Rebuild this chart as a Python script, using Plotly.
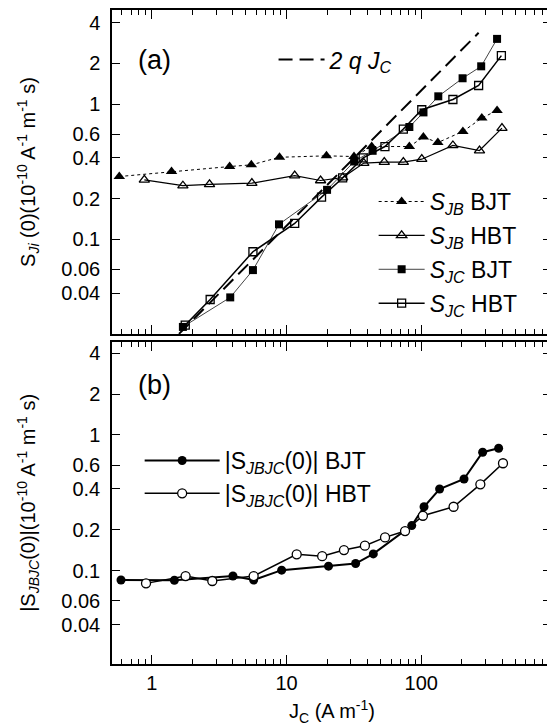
import plotly.graph_objects as go

# ---------------- data (panel a) ----------------
jb_bjt_x = [0.573, 1.40, 3.78, 5.48, 8.87, 19.8, 31.7, 42.9, 81.7, 103.8, 133, 204, 282, 366]
jb_bjt_y = [0.291, 0.317, 0.345, 0.355, 0.404, 0.414, 0.409, 0.485, 0.485, 0.570, 0.519, 0.627, 0.787, 0.897]

jb_hbt_x = [0.879, 1.70, 2.68, 5.53, 11.5, 17.9, 26.1, 37.5, 53.2, 73.7, 101, 172, 271, 398]
jb_hbt_y = [0.275, 0.249, 0.255, 0.260, 0.296, 0.272, 0.286, 0.366, 0.372, 0.372, 0.391, 0.494, 0.453, 0.664]

jc_bjt_x = [1.70, 3.82, 5.63, 8.79, 20.0, 31.8, 43.6, 81.7, 104, 134, 203, 279, 366]
jc_bjt_y = [0.0225, 0.0372, 0.0592, 0.129, 0.232, 0.376, 0.451, 0.676, 0.867, 1.14, 1.55, 1.90, 3.03]

jc_hbt_x = [1.77, 2.71, 5.63, 11.5, 18.2, 26.1, 37.1, 53.8, 73.7, 101, 172, 267, 394]
jc_hbt_y = [0.0232, 0.0359, 0.0809, 0.131, 0.205, 0.284, 0.40, 0.485, 0.653, 0.907, 1.08, 1.37, 2.28]

qjc_x = [1.59, 267]
qjc_y = [0.020, 3.36]

# ---------------- data (panel b) ----------------
jbjc_bjt_x = [0.590, 1.47, 4.0, 5.70, 9.2, 20.5, 32.6, 44.1, 85.1, 105, 137, 208, 286, 376]
jbjc_bjt_y = [0.0854, 0.0851, 0.0914, 0.0854, 0.101, 0.108, 0.113, 0.133, 0.215, 0.296, 0.400, 0.474, 0.746, 0.798]

jbjc_hbt_x = [0.905, 1.78, 2.81, 5.70, 11.9, 18.4, 26.7, 38.2, 53.9, 75.9, 103, 174, 275, 405]
jbjc_hbt_y = [0.0807, 0.0914, 0.0840, 0.0914, 0.132, 0.128, 0.142, 0.153, 0.176, 0.196, 0.254, 0.296, 0.433, 0.619]

y_tickvals = [0.04, 0.06, 0.1, 0.2, 0.4, 0.6, 1, 2, 4]
y_ticktext = ["0.04", "0.06", "0.1", "0.2", "0.4", "0.6", "1", "2", "4"]
x_tickvals = [1, 10, 100]
x_ticktext = ["1", "10", "100"]
x_minor = [0.6, 0.7, 0.8, 0.9, 2, 3, 4, 5, 6, 7, 8, 9, 20, 30, 40, 50, 60, 70, 80, 90,
           200, 300, 400, 500, 600, 700, 800, 900]

FONT = "Liberation Sans, Arial, sans-serif"
BLACK = "black"

fig = go.Figure()

fig.add_trace(go.Scatter(x=qjc_x, y=qjc_y, mode="lines", xaxis="x", yaxis="y",
                         line=dict(color=BLACK, width=2, dash="14px,7px"),
                         name="<i>2 q J<sub>C</sub></i>", legend="legend3"))

fig.add_trace(go.Scatter(x=jb_bjt_x, y=jb_bjt_y, mode="lines+markers", xaxis="x", yaxis="y",
                         line=dict(color=BLACK, width=1, dash="dot"),
                         marker=dict(symbol="triangle-up", size=10, color=BLACK),
                         name="<i>S<sub>JB</sub></i> BJT", legend="legend", legendgroup="a1"))
fig.add_trace(go.Scatter(x=jb_hbt_x, y=jb_hbt_y, mode="lines+markers", xaxis="x", yaxis="y",
                         line=dict(color=BLACK, width=1.2),
                         marker=dict(symbol="triangle-up-open", size=9, color=BLACK, line=dict(width=1.3)),
                         name="<i>S<sub>JB</sub></i> HBT", legend="legend", legendgroup="a2"))
fig.add_trace(go.Scatter(x=jc_bjt_x, y=jc_bjt_y, mode="lines+markers", xaxis="x", yaxis="y",
                         line=dict(color="#444", width=1),
                         marker=dict(symbol="square", size=8, color=BLACK),
                         name="<i>S<sub>JC</sub></i> BJT", legend="legend", legendgroup="a3"))
fig.add_trace(go.Scatter(x=jc_hbt_x, y=jc_hbt_y, mode="lines+markers", xaxis="x", yaxis="y",
                         line=dict(color=BLACK, width=1.5),
                         marker=dict(symbol="square-open", size=8, color=BLACK, line=dict(width=1.3)),
                         name="<i>S<sub>JC</sub></i> HBT", legend="legend", legendgroup="a4"))

fig.add_trace(go.Scatter(x=jbjc_bjt_x, y=jbjc_bjt_y, mode="lines+markers", xaxis="x2", yaxis="y2",
                         line=dict(color=BLACK, width=2),
                         marker=dict(symbol="circle", size=9, color=BLACK),
                         name="|S<sub><i>JBJC</i></sub>(0)| BJT", legend="legend2", legendgroup="b1"))
fig.add_trace(go.Scatter(x=jbjc_hbt_x, y=jbjc_hbt_y, mode="lines+markers", xaxis="x2", yaxis="y2",
                         line=dict(color=BLACK, width=1.5),
                         marker=dict(symbol="circle", size=9, color="white", line=dict(color=BLACK, width=1.3)),
                         name="|S<sub><i>JBJC</i></sub>(0)| HBT", legend="legend2", legendgroup="b2"))

xcommon = dict(type="log", range=[-0.296, 2.964], showline=True, linecolor=BLACK, linewidth=1.5,
               mirror="allticks", ticks="inside", ticklen=9, tickwidth=1.2, tickcolor=BLACK,
               tickvals=x_tickvals, ticktext=x_ticktext, showgrid=False, zeroline=False,
               automargin=False,
               minor=dict(tickvals=x_minor, ticks="inside", ticklen=5, tickcolor=BLACK, showgrid=False),
               tickfont=dict(family=FONT, size=20, color=BLACK))
ycommon = dict(type="log", showline=True, linecolor=BLACK, linewidth=1.5,
               mirror="allticks", ticks="inside", ticklen=8, tickwidth=1.2, tickcolor=BLACK,
               tickvals=y_tickvals, ticktext=y_ticktext, showgrid=False, zeroline=False,
               automargin=False,
               tickfont=dict(family=FONT, size=20, color=BLACK), ticklabelstandoff=6)

legfont = dict(family=FONT, size=23, color=BLACK)

# page body has an 8px margin, so the figure is drawn 8px in from the top-left corner
fig.update_layout(
    width=547, height=717,
    margin=dict(l=104, r=4, t=2, b=61, autoexpand=False),
    paper_bgcolor="white", plot_bgcolor="white",
    font=dict(family=FONT, size=20, color=BLACK),
    xaxis=dict(xcommon, anchor="y", showticklabels=False),
    yaxis=dict(ycommon, domain=[0.5046, 1.0], range=[-1.70, 0.695], anchor="x"),
    xaxis2=dict(xcommon, anchor="y2", matches="x"),
    yaxis2=dict(ycommon, domain=[0.0, 0.4924], range=[-1.687, 0.685], anchor="x2"),
    legend=dict(x=0.596, y=0.74, xanchor="left", yanchor="top", bgcolor="rgba(0,0,0,0)",
                font=legfont, tracegroupgap=1, itemwidth=46),
    legend2=dict(x=0.063, y=0.344, xanchor="left", yanchor="top", bgcolor="rgba(0,0,0,0)",
                 font=legfont, tracegroupgap=0, itemwidth=75),
    legend3=dict(x=0.368, y=0.957, xanchor="left", yanchor="top", bgcolor="rgba(0,0,0,0)",
                 font=legfont, itemwidth=46),
    showlegend=True,
)

fig.add_annotation(text="(a)", xref="paper", yref="paper", x=0.055, y=0.923, showarrow=False,
                   xanchor="left", yanchor="middle", font=dict(family=FONT, size=27, color=BLACK))
fig.add_annotation(text="(b)", xref="paper", yref="paper", x=0.055, y=0.427, showarrow=False,
                   xanchor="left", yanchor="middle", font=dict(family=FONT, size=27, color=BLACK))

fig.add_annotation(text="J<sub>C</sub> (A m<sup>-1</sup>)", xref="paper", yref="paper",
                   x=0.501, y=-0.072, showarrow=False, xanchor="center", yanchor="middle",
                   font=dict(family=FONT, size=20, color=BLACK))

fig.add_annotation(text="S<sub><i>Ji</i></sub> (0)(10<sup>-10</sup> A<sup>-1</sup> m<sup>-1</sup> s)",
                   xref="paper", yref="paper", x=-0.192, y=0.752, textangle=-90, showarrow=False,
                   xanchor="center", yanchor="middle", font=dict(family=FONT, size=20, color=BLACK))
fig.add_annotation(text="|S<sub><i>JBJC</i></sub>(0)|(10<sup>-10</sup> A<sup>-1</sup> m<sup>-1</sup> s)",
                   xref="paper", yref="paper", x=-0.192, y=0.246, textangle=-90, showarrow=False,
                   xanchor="center", yanchor="middle", font=dict(family=FONT, size=20, color=BLACK))

fig.write_html("out.html")
